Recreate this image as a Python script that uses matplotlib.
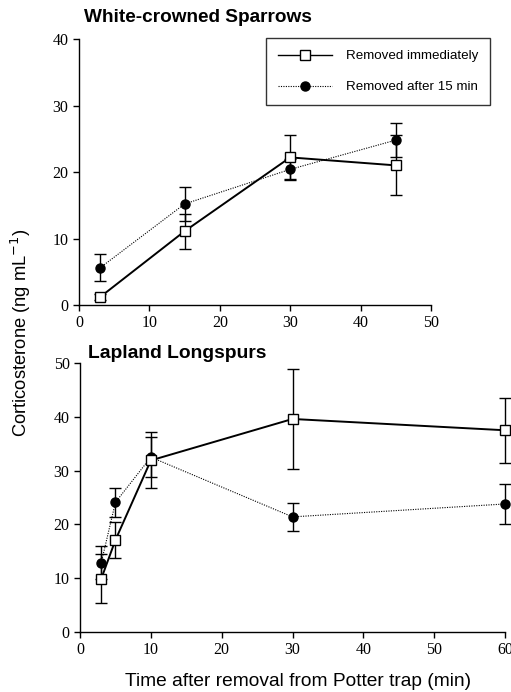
import matplotlib
matplotlib.use("Agg")
import matplotlib.pyplot as plt
from matplotlib.lines import Line2D

# White-crowned Sparrows
wcsp_time = [3, 15, 30, 45]
wcsp_imm = [1.2, 11.1, 22.2, 21.0]
wcsp_imm_err = [0.4, 2.6, 3.3, 4.5]
wcsp_late = [5.6, 15.2, 20.4, 24.8]
wcsp_late_err = [2.0, 2.6, 1.6, 2.6]

# Lapland Longspurs
lalo_time = [3, 5, 10, 30, 60]
lalo_imm = [9.9, 17.1, 31.9, 39.6, 37.5]
lalo_imm_err = [4.6, 3.3, 5.2, 9.3, 6.0]
lalo_late = [12.9, 24.1, 32.5, 21.4, 23.8]
lalo_late_err = [3.1, 2.7, 3.7, 2.6, 3.7]

serif = "Liberation Serif"
sans = "Liberation Sans"

fig = plt.figure(figsize=(5.11, 6.92), dpi=100)
ax1 = fig.add_axes([0.1546, 0.5592, 0.6888, 0.3844])
ax2 = fig.add_axes([0.1566, 0.0867, 0.8317, 0.3887])


def draw(ax, t, imm, imm_err, late, late_err):
    ax.errorbar(t, late, yerr=late_err, fmt="o", color="black", ms=6.5,
                ls=(0, (1, 1.2)), lw=0.8, elinewidth=1.0, capsize=4.5,
                capthick=1.0, clip_on=False, zorder=3)
    ax.errorbar(t, imm, yerr=imm_err, fmt="s", color="black", mfc="white",
                mec="black", mew=1.0, ms=6.5, ls="-", lw=1.4, elinewidth=1.0,
                capsize=4.5, capthick=1.0, clip_on=False, zorder=4)
    for s in ("top", "right"):
        ax.spines[s].set_visible(False)
    for s in ("left", "bottom"):
        ax.spines[s].set_linewidth(1.0)
    ax.tick_params(direction="out", length=4.5, width=1.0, labelsize=11.5,
                   pad=3)


draw(ax1, wcsp_time, wcsp_imm, wcsp_imm_err, wcsp_late, wcsp_late_err)
ax1.set_xlim(0, 50)
ax1.set_ylim(0, 40)
ax1.set_xticks(range(0, 51, 10))
ax1.set_yticks(range(0, 41, 10))
for lab in ax1.get_xticklabels() + ax1.get_yticklabels():
    lab.set_fontfamily(serif)

draw(ax2, lalo_time, lalo_imm, lalo_imm_err, lalo_late, lalo_late_err)
ax2.set_xlim(0, 60)
ax2.set_ylim(0, 50)
ax2.set_xticks(range(0, 61, 10))
ax2.set_yticks(range(0, 51, 10))
for lab in ax2.get_xticklabels() + ax2.get_yticklabels():
    lab.set_fontfamily(serif)

fig.text(84 / 511, 1 - 18 / 692, "White-crowned Sparrows", family=sans,
         weight="bold", fontsize=13.7, va="center", ha="left")
fig.text(88 / 511, 1 - 353 / 692, "Lapland Longspurs", family=sans,
         weight="bold", fontsize=13.9, va="center", ha="left")

fig.text(21 / 511, 1 - 333 / 692, "Corticosterone (ng mL$^{-1}$)",
         family=sans, fontsize=13.2, rotation=90, va="center", ha="center")
fig.text(298 / 511, 1 - 682 / 692, "Time after removal from Potter trap (min)",
         family=sans, fontsize=13.8, va="center", ha="center")

handles = [
    Line2D([], [], color="black", lw=1.0, marker="s", mfc="white",
           mec="black", ms=6.5),
    Line2D([], [], color="black", lw=0.8, ls=(0, (1, 1.2)), marker="o",
           ms=6.5),
]
leg = fig.legend(handles, ["Removed immediately", "Removed after 15 min"],
                 loc="upper right", bbox_to_anchor=(490 / 511, 1 - 38 / 692),
                 frameon=True, fancybox=False, edgecolor="black",
                 prop={"family": sans, "size": 9.6}, handlelength=4.1,
                 handletextpad=1.0, borderpad=0.9, labelspacing=1.4,
                 borderaxespad=0)
leg.get_frame().set_linewidth(1.0)

fig.savefig("out.png", dpi=100)
